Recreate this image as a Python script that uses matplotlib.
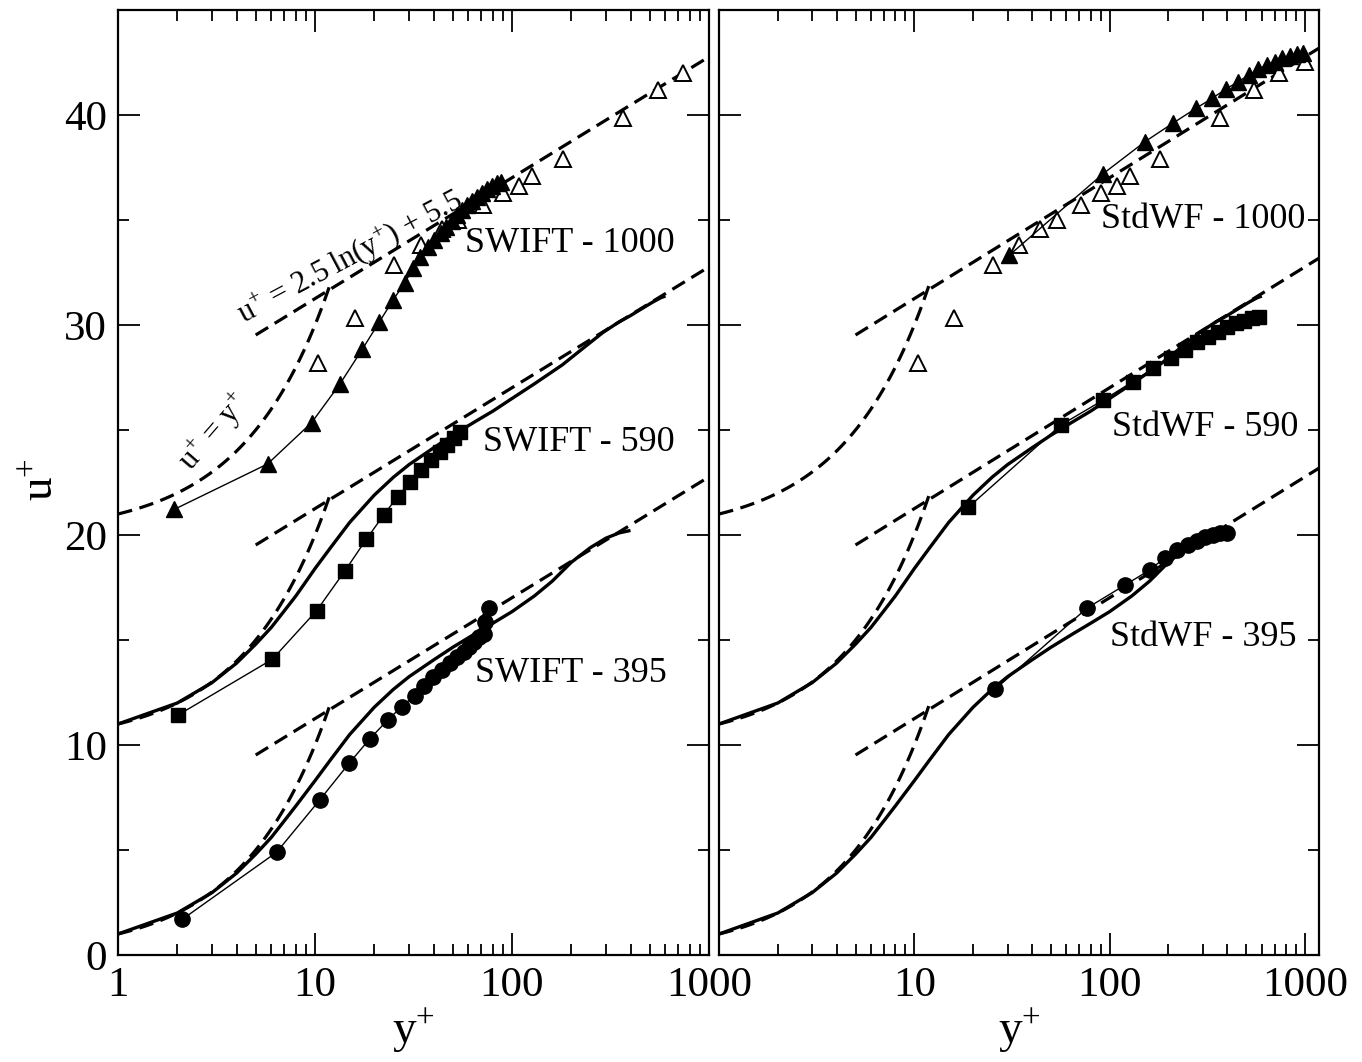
import matplotlib
matplotlib.use('Agg')
import matplotlib.pyplot as plt
import numpy as np
from matplotlib.ticker import LogLocator, NullFormatter, MultipleLocator, FixedLocator, FixedFormatter

plt.rcParams['font.family'] = ['Liberation Serif', 'DejaVu Serif']
plt.rcParams['mathtext.fontset'] = 'custom'
plt.rcParams['mathtext.rm'] = 'Liberation Serif'
plt.rcParams['mathtext.it'] = 'Liberation Serif:italic'
plt.rcParams['lines.scale_dashes'] = False

# ---------------- data (u+ values without vertical shift) ----------------
shift_395, shift_590, shift_1000 = 0.0, 10.0, 20.0

dns395_y = [1, 2, 3, 4, 5, 6, 7, 8, 10, 12, 15, 20, 25, 30, 40, 50, 65, 80, 100, 130, 160, 200, 250, 300, 350, 392]
dns395_u = [1.0, 2.0, 2.97, 3.9, 4.8, 5.6, 6.4, 7.1, 8.3, 9.3, 10.5, 11.8, 12.65, 13.25, 14.05, 14.65, 15.3, 15.8, 16.35, 17.1, 17.8, 18.7, 19.4, 19.85, 20.1, 20.2]

dns590_y = [1, 2, 3, 4, 5, 6, 7, 8, 10, 12, 15, 20, 25, 30, 40, 50, 65, 80, 100, 130, 180, 230, 290, 350, 400, 460, 520, 570, 590]
dns590_u = [1.0, 2.0, 2.97, 3.9, 4.8, 5.6, 6.4, 7.1, 8.4, 9.4, 10.6, 11.9, 12.75, 13.35, 14.15, 14.75, 15.4, 15.9, 16.5, 17.2, 18.1, 18.9, 19.65, 20.15, 20.45, 20.8, 21.1, 21.3, 21.35]

dns1000_y = [10.4, 16.0, 25.3, 34.5, 44.0, 53.5, 71.0, 90.5, 108.5, 127.0, 182.0, 368.0, 548.0, 738.0, 1000.0]
dns1000_u = [8.17, 10.32, 12.86, 13.8, 14.56, 15.02, 15.7, 16.27, 16.63, 17.1, 17.92, 19.84, 21.17, 22.02, 22.53]

swift395_y = [2.12, 6.38, 10.56, 14.9, 19.0, 23.4, 27.6, 32.0, 35.9, 39.9, 44.0, 48.5, 52.5, 56.8, 60.7, 64.5, 68.2, 71.7, 73.1, 76.6]
swift395_u = [1.70, 4.89, 7.38, 9.13, 10.30, 11.19, 11.83, 12.35, 12.81, 13.22, 13.57, 13.89, 14.17, 14.44, 14.68, 14.92, 15.13, 15.29, 15.87, 16.51]

swift590_y = [2.02, 6.07, 10.2, 14.2, 18.2, 22.3, 26.3, 30.5, 34.6, 38.7, 42.9, 46.7, 50.5, 54.6]
swift590_u = [1.43, 4.08, 6.40, 8.30, 9.79, 10.95, 11.83, 12.54, 13.10, 13.57, 13.97, 14.29, 14.60, 14.92]

swift1000_y = [1.93, 5.74, 9.61, 13.4, 17.4, 21.2, 24.9, 28.5, 31.5, 34.3, 37.4, 40.4, 43.4, 46.5, 49.7, 52.7, 55.9, 59.3, 62.8, 66.6, 70.6, 74.8, 79.4, 84.2, 88.3]
swift1000_u = [1.22, 3.38, 5.35, 7.2, 8.85, 10.14, 11.19, 12.0, 12.7, 13.25, 13.73, 14.05, 14.37, 14.68, 14.97, 15.24, 15.48, 15.71, 15.92, 16.11, 16.27, 16.46, 16.62, 16.75, 16.83]

std395_y = [25.9, 76.3, 120, 160, 192, 222, 253, 281, 308, 337, 367, 398]
std395_u = [12.65, 16.51, 17.62, 18.33, 18.92, 19.29, 19.52, 19.73, 19.89, 20.0, 20.08, 20.08]

std590_y = [18.9, 56.3, 92.9, 131.4, 167.4, 206, 243, 281, 320, 360, 401, 444, 488, 534, 585]
std590_u = [11.32, 15.24, 16.43, 17.3, 17.94, 18.41, 18.81, 19.17, 19.44, 19.68, 19.89, 20.08, 20.2, 20.32, 20.36]

std1000_y = [30.7, 92.2, 151.7, 210, 277, 334, 392, 455, 516, 575, 636, 702, 767, 839, 914, 975]
std1000_u = [13.33, 17.19, 18.73, 19.6, 20.32, 20.79, 21.22, 21.59, 21.9, 22.17, 22.38, 22.54, 22.7, 22.81, 22.9, 22.94]

kappa_inv, B = 2.5, 5.5
lin_range = (1.0, 12.0)
log_range = (5.0, 1200.0)

xticks_left = [1, 10, 100, 1000]
xticks_right = [10, 100, 1000]
yticks = [0, 10, 20, 30, 40]

# ---------------- figure ----------------
fig = plt.figure(figsize=(13.62, 10.62), dpi=100)
axL = fig.add_axes([118/1362, 107/1062, 591/1362, 945/1062])
axR = fig.add_axes([719/1362, 107/1062, 600/1362, 945/1062])

DASH = (10.5, 5.5)
yl = np.logspace(np.log10(lin_range[0]), np.log10(lin_range[1]), 80)
yg = np.logspace(np.log10(log_range[0]), np.log10(log_range[1]), 40)


def law_of_wall(ax):
    for s in (shift_395, shift_590, shift_1000):
        ax.plot(yl, yl + s, color='k', lw=2.3, dashes=DASH, zorder=2)
        ax.plot(yg, kappa_inv * np.log(yg) + B + s, color='k', lw=2.3, dashes=DASH, zorder=2)


def dns_lines(ax, xmax):
    ax.plot(dns395_y, np.array(dns395_u) + shift_395, color='k', lw=2.4, zorder=3)
    ax.plot(dns590_y, np.array(dns590_u) + shift_590, color='k', lw=2.4, zorder=3)
    y = np.array(dns1000_y)
    u = np.array(dns1000_u) + shift_1000
    keep = y < xmax * 0.99
    ax.plot(y[keep], u[keep], ls='none', marker='^', ms=11,
            mfc='white', mec='k', mew=1.4, zorder=4)


def series(ax, y, u, s, marker, ms):
    ax.plot(y, np.array(u) + s, color='k', lw=1.0, marker=marker, ms=ms,
            mfc='k', mec='k', zorder=5)


# left panel
law_of_wall(axL)
dns_lines(axL, 1000)
series(axL, swift395_y, swift395_u, shift_395, 'o', 11)
series(axL, swift590_y, swift590_u, shift_590, 's', 9.5)
series(axL, swift1000_y, swift1000_u, shift_1000, '^', 11.5)

# right panel
law_of_wall(axR)
dns_lines(axR, 1180)
series(axR, std395_y, std395_u, shift_395, 'o', 11)
series(axR, std590_y, std590_u, shift_590, 's', 9.5)
series(axR, std1000_y, std1000_u, shift_1000, '^', 11.5)

FS_TXT = 26
axL.text(58, 33.9, 'SWIFT - 1000', fontsize=FS_TXT, va='center', ha='left')
axL.text(71, 24.4, 'SWIFT - 590', fontsize=FS_TXT, va='center', ha='left')
axL.text(65, 13.4, 'SWIFT - 395', fontsize=FS_TXT, va='center', ha='left')
axR.text(1000, 35.0, 'StdWF - 1000', fontsize=FS_TXT, va='center', ha='right')
axR.text(103, 25.1, 'StdWF - 590', fontsize=FS_TXT, va='center', ha='left')
axR.text(100.5, 15.14, 'StdWF - 395', fontsize=FS_TXT, va='center', ha='left')

axL.text(15.1, 33.2, r'$\mathrm{u^{+}\,=\,2.5\;ln(y^{+})\,+\,5.5}$', fontsize=22,
         rotation=28, ha='center', va='center', rotation_mode='anchor')
axL.text(3.1, 24.85, r'$\mathrm{u^{+}\,=\,y^{+}}$', fontsize=22,
         rotation=49, ha='center', va='center', rotation_mode='anchor')

for ax, xmax, xt in ((axL, 1000, xticks_left), (axR, 1180, xticks_right)):
    ax.set_xscale('log')
    ax.set_xlim(1, xmax)
    ax.set_ylim(0, 45)
    ax.xaxis.set_major_locator(FixedLocator(xt))
    ax.xaxis.set_major_formatter(FixedFormatter([str(v) for v in xt]))
    ax.xaxis.set_minor_locator(LogLocator(base=10, subs=np.arange(2, 10)))
    ax.xaxis.set_minor_formatter(NullFormatter())
    ax.yaxis.set_major_locator(FixedLocator(yticks))
    ax.yaxis.set_minor_locator(MultipleLocator(5))
    ax.tick_params(which='both', direction='in', top=True, right=True, width=1.3)
    ax.tick_params(which='major', length=16, labelsize=31, pad=8)
    ax.tick_params(which='minor', length=8)
    for sp in ax.spines.values():
        sp.set_linewidth(1.6)

axL.yaxis.set_major_formatter(FixedFormatter([str(v) for v in yticks]))
axR.tick_params(axis='y', which='both', labelleft=False)

fig.text(413/1362, 1 - 1032/1062, r'$\mathrm{y^{+}}$', fontsize=34, ha='center', va='center')
fig.text(1019/1362, 1 - 1032/1062, r'$\mathrm{y^{+}}$', fontsize=34, ha='center', va='center')
fig.text(42/1362, 1 - 480/1062, r'$\mathrm{u^{+}}$', fontsize=34, ha='center', va='center', rotation=90)

fig.savefig('out.png', dpi=100)
